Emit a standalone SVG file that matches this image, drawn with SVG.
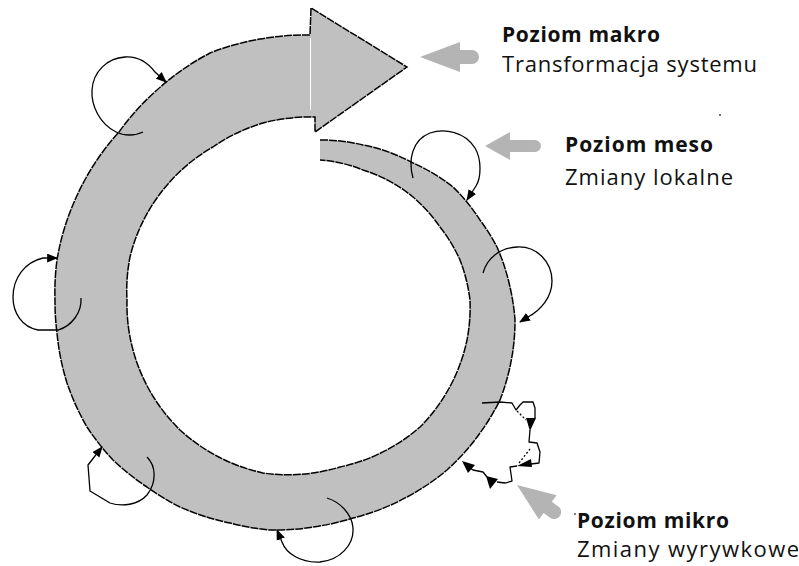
<svg xmlns="http://www.w3.org/2000/svg" width="799" height="566" viewBox="0 0 799 566">
<defs>
<style>
.band{fill:#c0c0c0;stroke:#000;stroke-width:1.5;stroke-dasharray:8 1;stroke-linejoin:miter}
.loop{fill:none;stroke:#000;stroke-width:1.3;stroke-linejoin:round}
.tri{fill:#000}
.ptr{fill:#b4b4b4;stroke:none}
.t{font-family:"Open Sans","Liberation Sans",sans-serif;font-size:22px;fill:#111}
.b{font-weight:bold;font-size:21px}
</style>
<marker id="ah" viewBox="0 0 10 8" refX="9" refY="4" markerWidth="11" markerHeight="9" markerUnits="userSpaceOnUse" orient="auto">
<path d="M0,0 L10,4 L0,8 z" fill="#000"/>
</marker>
</defs>
<rect width="799" height="566" fill="#fff"/>
<g id="cycle">
<path class="band" d="M320,140 A170 170 0 0 1 363,145 A170 170 0 0 1 413,163 A180 180 0 0 1 453,187 A190 190 0 0 1 480,220 A200 200 0 0 1 497,247 A210 210 0 0 1 510,287 A215 215 0 0 1 515,320 A220 220 0 0 1 513,350 A225 225 0 0 1 500,400 A228 228 0 0 1 480,433 A228 228 0 0 1 447,470 A229 229 0 0 1 407,497 A229 229 0 0 1 353,518 A230 230 0 0 1 313,527 A233 233 0 0 1 270,530 A236 236 0 0 1 230,523 A240 240 0 0 1 180,507 A242 242 0 0 1 147,487 A245 245 0 0 1 113,460 A247 247 0 0 1 87,427 A247 247 0 0 1 67,383 A245 245 0 0 1 57,333 A244 244 0 0 1 55,300 A244 244 0 0 1 57,260 A243 243 0 0 1 75,200 A243 243 0 0 1 95,163 A244 244 0 0 1 119,132 A248 248 0 0 1 157,90 A252 252 0 0 1 210,53 A258 258 0 0 1 260,39 A261 261 0 0 1 310,35 L311,8 L407,67 L315,132 L315,117 L310,117 A178 178 0 0 0 263,123 A174 174 0 0 0 213,147 A172 172 0 0 0 163,190 A172 172 0 0 0 130,257 A172 172 0 0 0 127,300 A174 174 0 0 0 133,350 A176 176 0 0 0 180,430 A180 180 0 0 0 263,473 A178 178 0 0 0 340,467 A177 177 0 0 0 420,427 A174 174 0 0 0 467,340 A172 172 0 0 0 470,300 A166 166 0 0 0 460,260 A158 158 0 0 0 440,227 A152 152 0 0 0 413,197 A146 146 0 0 0 363,170 A140 140 0 0 0 320,160"/>
<line x1="310.5" y1="38" x2="310.5" y2="110" stroke="#fff" stroke-width="1"/>
</g>
<g id="connectors">
<path class="loop" marker-end="url(#ah)" d="M143,132 C135,136 124,136 116,132 C100,124 91,106 92,90 C93,72 107,58 125,57 C138,56 148,63 155,72 L166,82"/>
<path class="loop" marker-end="url(#ah)" d="M81,298 C82,312 72,326 58,330 L38,330 C22,327 13,313 13,297 C13,278 25,262 43,258 L57,258"/>
<path class="loop" marker-end="url(#ah)" d="M147,457 C156,466 157,482 147,495 C138,505 122,507 110,503 L90,491 L88,465 L102,447"/>
<path class="loop" marker-end="url(#ah)" d="M327,498 C340,502 352,514 353,528 C354,545 340,560 320,562 C300,563 286,553 282,542 L277,530"/>
<path class="loop" marker-end="url(#ah)" d="M413,178 C408,160 412,140 430,133 C445,128 465,132 475,148 C482,160 481,178 476,186 L467,200"/>
<path class="loop" marker-end="url(#ah)" d="M483,273 C487,258 500,248 517,247 C537,246 552,262 552,281 C552,297 541,310 528,317 L520,322"/>
<polyline class="loop" points="482,403 500,402 512,403 516,410 520,405 523,402 533,402 535,408 535,418"/>
<polyline class="loop" points="530,430 529,442 537,443 540,452 539,463 531,464"/>
<polyline class="loop" points="517,466 510,467 511,474 512,481 505,483 497,482"/>
<polyline class="loop" points="487,477 483,472 473,470 470,468"/>
<path class="loop" stroke-dasharray="2 2" d="M517,411 L526,420 M519,463 L530,449"/>
<polygon class="tri" points="526,418 536,418 530,431"/>
<polygon class="tri" points="517,466 531,459 532,467"/>
<polygon class="tri" points="486,476 498,479 490,489"/>
<polygon class="tri" points="462,461 475,465 468,473"/>
</g>
<g id="makro">
<path class="ptr" d="M420,57 L460,42 L460,50 L472,50 A7 7 0 0 1 472,64 L460,64 L460,72 Z"/>
<text class="t b" x="502" y="42" textLength="158">Poziom makro</text>
<text class="t" x="502" y="72" textLength="255">Transformacja systemu</text>
</g>
<g id="meso">
<path class="ptr" d="M485,146 L510,132 L510,140 L535,140 A6 6 0 0 1 535,152 L510,152 L510,160 Z"/>
<text class="t b" x="565" y="152" textLength="148">Poziom meso</text>
<text class="t" x="565" y="185" textLength="168">Zmiany lokalne</text>
</g>
<g id="mikro">
<path class="ptr" transform="translate(517,485) rotate(36)" d="M0,0 L38,-15 L38,-7 L46,-7 A7 7 0 0 1 46,7 L38,7 L38,15 Z"/>
<text class="t b" x="577" y="528" textLength="152">Poziom mikro</text>
<text class="t" x="577" y="557" textLength="222">Zmiany wyrywkowe</text>
</g>
<circle cx="720" cy="115" r="1" fill="#444"/>
<circle cx="575" cy="514" r="0.9" fill="#444"/>
</svg>
